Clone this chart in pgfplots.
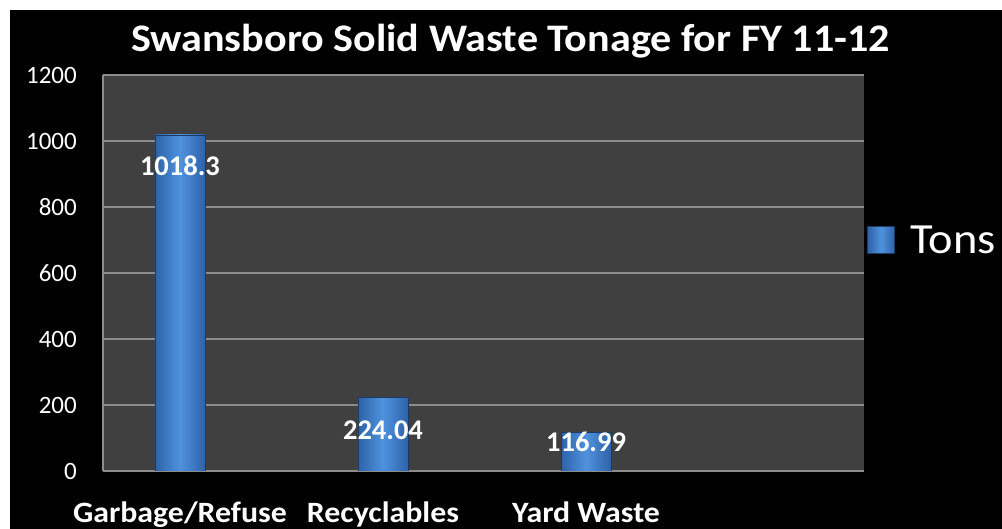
\documentclass[border=0pt]{standalone}
\usepackage{graphicx}
\usepackage{pgfplots}
\pgfplotsset{compat=1.18}
\usepackage{fontspec}
\setmainfont{Carlito}
\newcommand\sx[1]{\scalebox{1.08}[1]{#1}}
\definecolor{plotbg}{HTML}{404040}
\definecolor{gridc}{HTML}{8C8C8C}
\definecolor{barmid}{HTML}{5092DE}
\definecolor{baredge}{HTML}{2D62A8}
\begin{document}
\begin{tikzpicture}
\useasboundingbox (0,0) rectangle (1002bp,529bp);
\fill[white] (0,0) rectangle (1002bp,529bp);
\fill[black] (10bp,0) rectangle (1002bp,519bp);
\begin{axis}[
  at={(103bp,58bp)}, anchor=south west,
  scale only axis, width=761bp, height=396bp,
  xmin=-0.379, xmax=3.369, ymin=0, ymax=1200,
  ytick={0,200,...,1200},
  xtick={0,1,2},
  xticklabels={\sx{Garbage/Refuse}, \sx{Recyclables}, \sx{Yard Waste}},
  axis background/.style={fill=plotbg},
  axis lines*=left,
  axis line style={gridc, line width=1.2bp},
  ymajorgrids, grid style={gridc, line width=1.2bp},
  major tick length=0pt,
  tick label style={white},
  /pgf/number format/1000 sep={},
  yticklabel style={font=\fontsize{25bp}{30bp}\selectfont, /pgf/number format/assume math mode=true, anchor=east, inner sep=0pt, xshift=-26bp},
  xticklabel style={font=\fontsize{29.5bp}{32bp}\selectfont\bfseries, anchor=base, inner sep=0pt, yshift=-51bp},
  title={\sx{Swansboro Solid Waste Tonage for FY 11-12}},
  title style={font=\fontsize{39bp}{44bp}\selectfont\bfseries, text=white, at={(0.5355,1.045)}, anchor=base, inner sep=0pt},
  legend style={at={(1.0,0.583)}, anchor=west, xshift=3bp, draw=none, fill=none, text=white, font=\fontsize{43bp}{48bp}\selectfont, inner sep=0pt, nodes={inner sep=0pt}, /tikz/every odd column/.append style={column sep=15bp}},
  legend image code/.code={\draw[#1] (0bp,-13.5bp) rectangle (27bp,13.5bp);},
  barstyle/.style={ybar, bar width=50bp, bar shift=0pt, draw=baredge!60!black, line width=0.8bp, left color=baredge, right color=baredge, middle color=barmid},
]
\addplot[barstyle] coordinates {(0,1018.3)};
\addlegendentry{\sx{Tons}}
\addplot[barstyle, forget plot] coordinates {(1,224.04)};
\addplot[barstyle, forget plot] coordinates {(2,116.99)};
\addplot[only marks, mark=none, point meta=explicit symbolic, nodes near coords, nodes near coords style={anchor=center, text=white, font=\fontsize{28.5bp}{30bp}\selectfont\bfseries}, forget plot]
  coordinates {(0,924)[1018.3] (1,124)[224.04] (2,88)[116.99]};
\end{axis}
\end{tikzpicture}
\end{document}
